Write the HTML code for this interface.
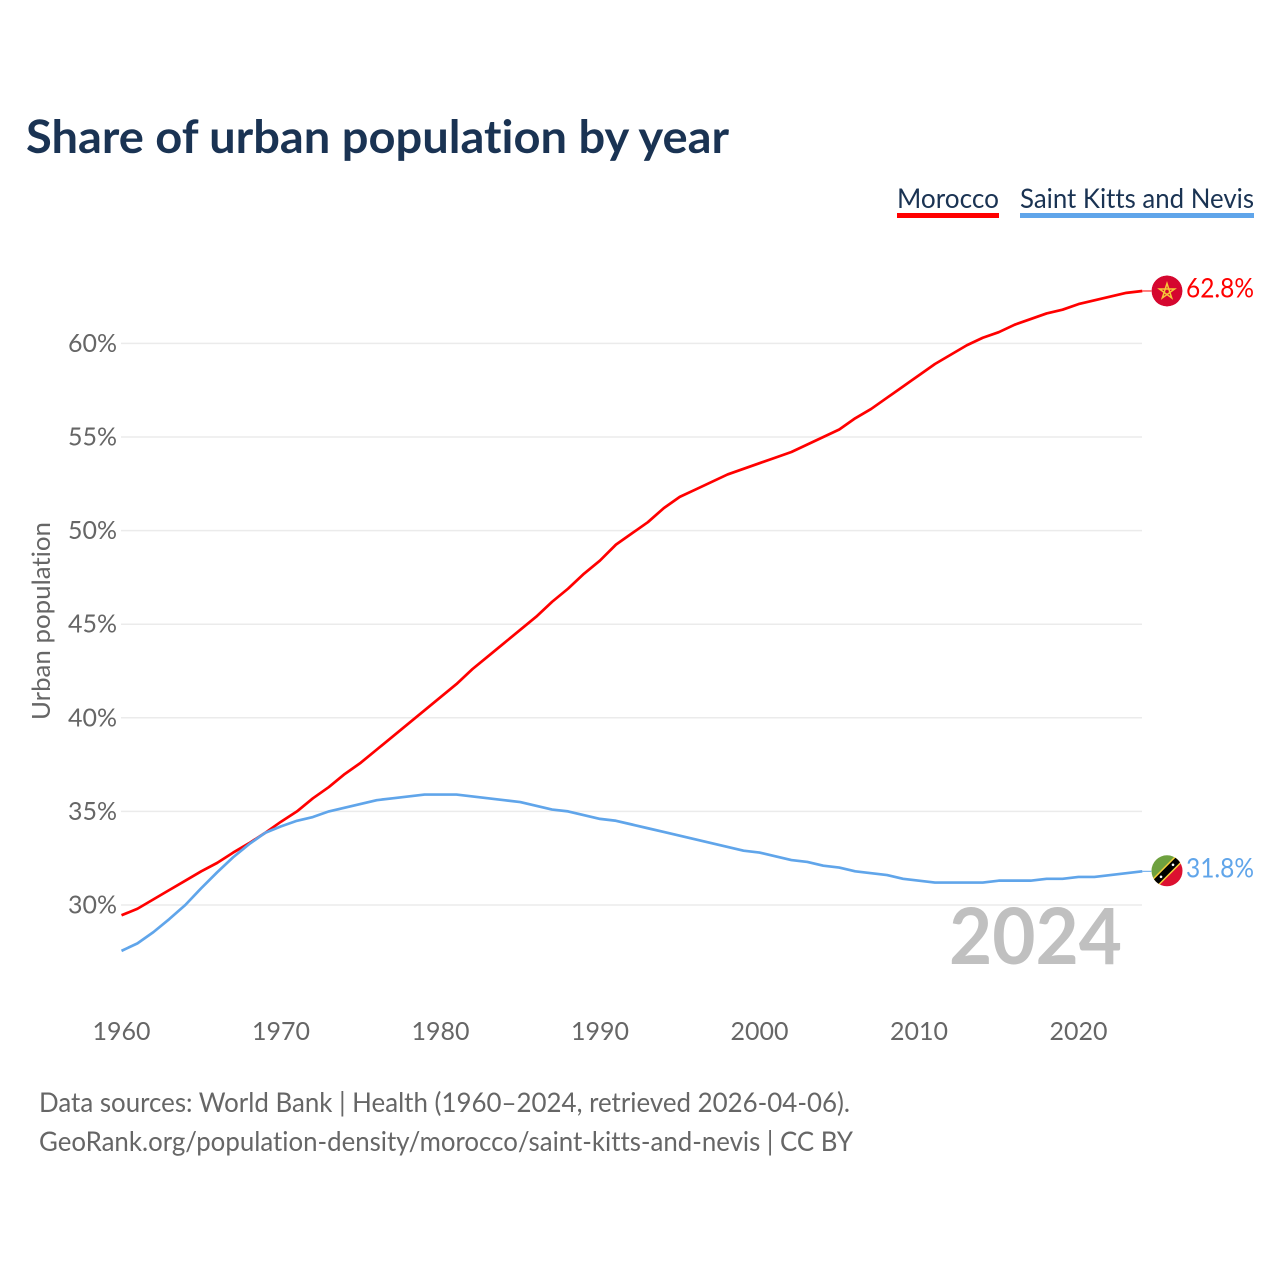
<!DOCTYPE html>
<html lang="en">
<head>
<meta charset="utf-8">
<title>Share of urban population by year</title>
<style>
html,body{margin:0;padding:0;background:#fff;width:1280px;height:1280px;overflow:hidden}
svg{display:block}
text{font-family:"Lato","Carlito","Liberation Sans",sans-serif;font-variant-ligatures:none;font-feature-settings:"liga" 0,"clig" 0}
</style>
</head>
<body>
<svg id="chart" xmlns="http://www.w3.org/2000/svg" width="1280" height="1280" viewBox="0 0 1280 1280">
  <text x="26" y="153" font-size="46" font-weight="700" fill="#1a3353" textLength="703" lengthAdjust="spacingAndGlyphs">Share of urban population by year</text>

  <g>
    <g>
      <text x="897" y="208" font-size="27" fill="#1a3353" textLength="102" lengthAdjust="spacingAndGlyphs">Morocco</text>
      <rect x="897" y="213" width="102" height="5" fill="#ff0000"/>
    </g>
    <g>
      <text x="1020" y="208" font-size="27" fill="#1a3353" textLength="234" lengthAdjust="spacingAndGlyphs">Saint Kitts and Nevis</text>
      <rect x="1020" y="213" width="234" height="5" fill="#60a5ea"/>
    </g>
  </g>

  <g id="grid"></g>
  <g id="yticks"></g>
  <g id="xticks"></g>

  <text transform="translate(50,621) rotate(-90)" text-anchor="middle" font-size="25" fill="#666666" textLength="198" lengthAdjust="spacingAndGlyphs">Urban population</text>

  <text x="1122" y="964" text-anchor="end" font-size="78" font-weight="700" fill="#c0c0c0" textLength="173" lengthAdjust="spacingAndGlyphs">2024</text>

  <g id="series"></g>

  <defs>
    <clipPath id="clip-ma"><circle id="clip-ma-c" r="15.5"/></clipPath>
    <clipPath id="clip-kn"><circle id="clip-kn-c" r="15.5"/></clipPath>
  </defs>

  <g id="flag-ma">
    <g clip-path="url(#clip-ma)">
      <circle id="flag-ma-bg" r="15.5" fill="#d5072f"/>
      <polygon id="flag-ma-star" fill="none" stroke="#f5c838" stroke-width="1.5" points=""/>
    </g>
  </g>
  <g id="flag-kn">
    <g id="flag-kn-art" clip-path="url(#clip-kn)"></g>
  </g>

  <text id="label-ma" font-size="27" fill="#ff0000"></text>
  <text id="label-kn" font-size="27" fill="#60a5ea"></text>

  <text x="39" y="1112" font-size="27" fill="#666666" textLength="811" lengthAdjust="spacingAndGlyphs">Data sources: World Bank | Health (1960–2024, retrieved 2026-04-06).</text>
  <text x="39" y="1151" font-size="27" fill="#666666" textLength="814" lengthAdjust="spacingAndGlyphs">GeoRank.org/population-density/morocco/saint-kitts-and-nevis | CC BY</text>
</svg>

<script>
const years = [];
const firstYear = 1960;
const yTickValues = [30, 35, 40, 45, 50, 55, 60];
const xTickValues = [1960, 1970, 1980, 1990, 2000, 2010, 2020];
const moroccoValues = [29.45,29.8,30.3,30.8,31.3,31.8,32.25,32.8,33.3,33.85,34.45,35.0,35.7,36.3,37.0,37.6,38.3,39.0,39.7,40.4,41.1,41.8,42.6,43.3,44.0,44.7,45.4,46.2,46.9,47.7,48.4,49.25,49.85,50.45,51.2,51.8,52.2,52.6,53.0,53.3,53.6,53.9,54.2,54.6,55.0,55.4,56.0,56.5,57.1,57.7,58.3,58.9,59.4,59.9,60.3,60.6,61.0,61.3,61.6,61.8,62.1,62.3,62.5,62.7,62.8];
const saintKittsValues = [27.55,27.95,28.55,29.25,30.0,30.9,31.75,32.55,33.25,33.85,34.2,34.5,34.7,35.0,35.2,35.4,35.6,35.7,35.8,35.9,35.9,35.9,35.8,35.7,35.6,35.5,35.3,35.1,35.0,34.8,34.6,34.5,34.3,34.1,33.9,33.7,33.5,33.3,33.1,32.9,32.8,32.6,32.4,32.3,32.1,32.0,31.8,31.7,31.6,31.4,31.3,31.2,31.2,31.2,31.2,31.3,31.3,31.3,31.4,31.4,31.5,31.5,31.6,31.7,31.8];

moroccoValues.forEach(function(_, i){ years.push(firstYear + i); });

const NS = 'http://www.w3.org/2000/svg';
function xScale(year){ return 121.5 + (year - 1960) * 15.95; }
function yScale(v){ return 905 - (v - 30) * 18.72; }
function make(tag, attrs, parent){
  const el = document.createElementNS(NS, tag);
  for (const k in attrs) el.setAttribute(k, attrs[k]);
  parent.appendChild(el);
  return el;
}

const grid = document.getElementById('grid');
const yticks = document.getElementById('yticks');
yTickValues.forEach(function(v){
  const line = make('line', {x1:121, x2:1142, y1:yScale(v), y2:yScale(v), stroke:'#ebebeb', 'stroke-width':1.5}, grid);
  
  
  const t = make('text', {x:117, y:yScale(v) + 8.5, 'text-anchor':'end', 'font-size':25, fill:'#666666', textLength:49, lengthAdjust:'spacingAndGlyphs'}, yticks);
  
  
  t.textContent = v + '%';
});

const xticks = document.getElementById('xticks');
xTickValues.forEach(function(y){
  const t = make('text', {x:xScale(y), y:1040, 'text-anchor':'middle', 'font-size':25, fill:'#666666', textLength:58, lengthAdjust:'spacingAndGlyphs'}, xticks);
  
  
  t.textContent = y;
});

const seriesGroup = document.getElementById('series');
function drawSeries(values, color, name){
  const d = values.map(function(v, i){ return (i ? 'L' : 'M') + xScale(years[i]).toFixed(2) + ' ' + yScale(v).toFixed(2); }).join(' ');
  const path = make('path', {d:d, fill:'none', stroke:color, 'stroke-width':2.7, 'stroke-linejoin':'round'}, seriesGroup);
  
  
  const lastV = values[values.length - 1];
  const lastX = xScale(years[years.length - 1]);
  const conn = make('line', {x1:lastX, x2:lastX + 9, y1:yScale(lastV), y2:yScale(lastV), stroke:color, 'stroke-width':1}, seriesGroup);
  
  
}
drawSeries(moroccoValues, '#ff0000', 'morocco');
drawSeries(saintKittsValues, '#60a5ea', 'saint-kitts');

const flagX = 1167;
const maV = moroccoValues[moroccoValues.length - 1];
const knV = saintKittsValues[saintKittsValues.length - 1];
const maY = yScale(maV);
const knY = yScale(knV) - 0.5;

document.getElementById('clip-ma-c').setAttribute('cx', flagX);
document.getElementById('clip-ma-c').setAttribute('cy', maY);
document.getElementById('clip-kn-c').setAttribute('cx', flagX);
document.getElementById('clip-kn-c').setAttribute('cy', knY);

const maBg = document.getElementById('flag-ma-bg');
maBg.setAttribute('cx', flagX);
maBg.setAttribute('cy', maY);
const starPts = [];
for (let i = 0; i < 5; i++) {
  const a = -Math.PI / 2 + i * 2 * 2 * Math.PI / 5;
  starPts.push((flagX + 8 * Math.cos(a)).toFixed(2) + ',' + (maY + 0.5 + 8 * Math.sin(a)).toFixed(2));
}
document.getElementById('flag-ma-star').setAttribute('points', starPts.join(' '));

const kn = document.getElementById('flag-kn-art');
const fx = flagX, fy = knY;
const knGreen = make('polygon', {points:[fx-16,fy+16, fx-16,fy-16, fx+16,fy-16].join(' '), fill:'#6ea13f'}, kn);


const knRed = make('polygon', {points:[fx-16,fy+16, fx+16,fy+16, fx+16,fy-16].join(' '), fill:'#dc1030'}, kn);


const knGold = make('line', {x1:fx-16, y1:fy+16, x2:fx+16, y2:fy-16, stroke:'#f5cf3a', 'stroke-width':9.5}, kn);


const knBlack = make('line', {x1:fx-16, y1:fy+16, x2:fx+16, y2:fy-16, stroke:'#000000', 'stroke-width':6.5}, kn);


[-6, 6].forEach(function(o){
  const s = make('circle', {cx:fx+o, cy:fy-o, r:1.3, fill:'#ffffff'}, kn);
  
  
});

const labelMa = document.getElementById('label-ma');
labelMa.setAttribute('x', 1186);
labelMa.setAttribute('y', yScale(maV) + 6.5);
labelMa.setAttribute('textLength', 68);
labelMa.setAttribute('lengthAdjust', 'spacingAndGlyphs');
labelMa.textContent = maV.toFixed(1) + '%';
const labelKn = document.getElementById('label-kn');
labelKn.setAttribute('x', 1186);
labelKn.setAttribute('y', yScale(knV) + 6);
labelKn.setAttribute('textLength', 68);
labelKn.setAttribute('lengthAdjust', 'spacingAndGlyphs');
labelKn.textContent = knV.toFixed(1) + '%';
</script>
</body>
</html>
